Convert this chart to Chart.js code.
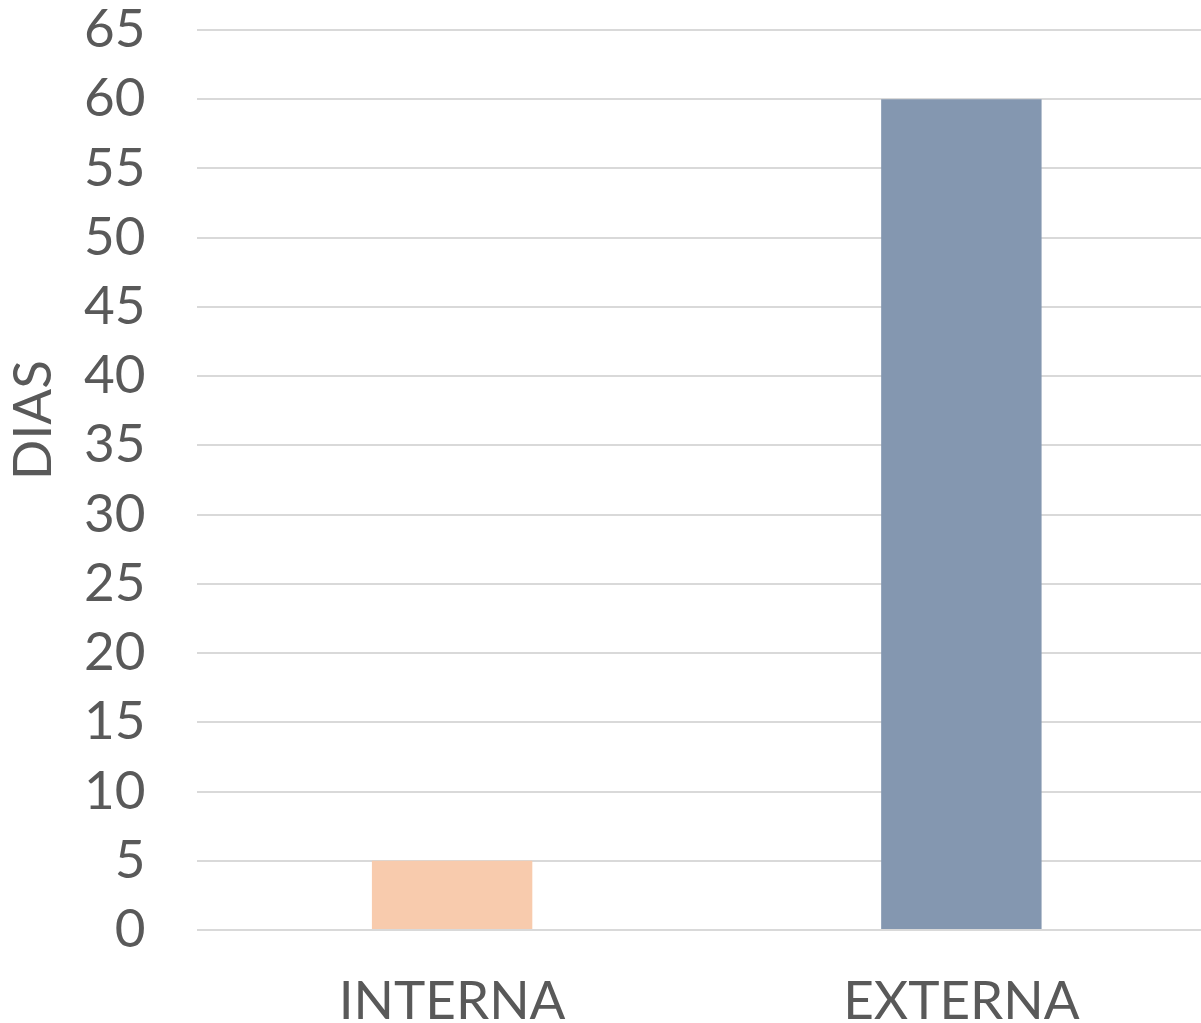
<!DOCTYPE html>
<html>
<head>
<meta charset="utf-8">
<script src="https://cdn.jsdelivr.net/npm/chart.js@4.4.0/dist/chart.umd.min.js"></script>
<style>
  html, body { margin: 0; padding: 0; overflow: hidden; background: #fff; }
  .wrap { width: 1216px; height: 1023px; }
</style>
</head>
<body>
<div class="wrap"><canvas id="chart" width="1216" height="1023"></canvas></div>
<script>
var categories = ["INTERNA", "EXTERNA"];
var dias = [5, 60];
var barColors = ["#F8CBAD", "#8497B0"];
var yTitle = "DIAS";

// draws the y title a bit above the middle, like the original
const yTitlePlugin = {
  id: "yTitle",
  afterDraw(chart) {
    const ctx = chart.ctx;
    ctx.save();
    ctx.translate(34, 420);
    ctx.rotate(-Math.PI / 2);
    ctx.font = "53px Lato";
    ctx.fillStyle = "#595959";
    ctx.textAlign = "center";
    ctx.textBaseline = "middle";
    ctx.fillText(yTitle, 0, 0);
    ctx.restore();
  }
};

new Chart(document.getElementById("chart"), {
  type: "bar",
  data: {
    labels: categories,
    datasets: [
      {
        label: yTitle,
        data: dias,
        backgroundColor: barColors,
        borderWidth: 0,
        categoryPercentage: 1,
        barPercentage: 0.315,
      },
    ],
  },
  options: {
    responsive: false,
    animation: false,
    layout: { padding: { left: 32, top: 0, right: 0, bottom: 0 } },
    plugins: {
      legend: { display: false },
      tooltip: { enabled: false },
    },
    scales: {
      x: {
        grid: { display: false },
        border: { display: false },
        ticks: { color: "#595959", font: { family: "Lato", size: 53, lineHeight: 1.05 }, padding: 36 },
        afterFit(scale) {
          // labels sit low, close to the bottom edge
          scale.height = 93;
        },
      },
      y: {
        min: 0,
        max: 65,
        ticks: { stepSize: 5, autoSkip: false, color: "#595959", font: { family: "Lato", size: 53 }, padding: 52 },
        grid: { color: "#D9D9D9", lineWidth: 2, drawTicks: false },
        border: { display: false },
        afterFit(scale) {
          // tick padding gets added on top/bottom too, take it back off
          scale.paddingTop = 30;
          scale.paddingBottom = 0;
        },
      },
    },
  },
  plugins: [yTitlePlugin],
});
</script>
</body>
</html>
